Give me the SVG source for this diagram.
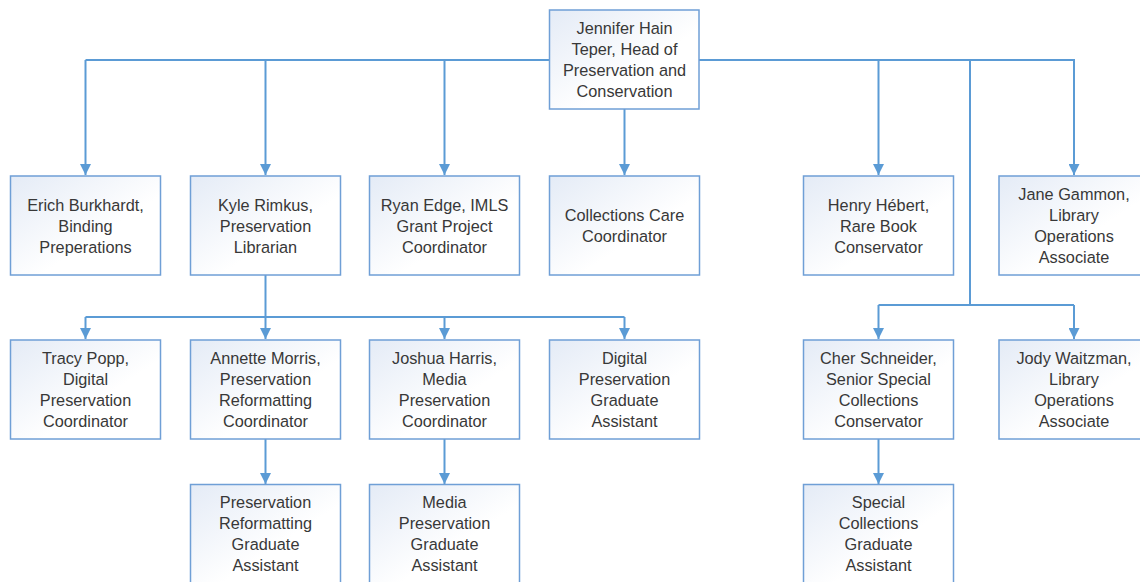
<svg xmlns="http://www.w3.org/2000/svg" width="1140" height="582" viewBox="0 0 1140 582">
<defs>
<linearGradient id="g" x1="0" y1="0" x2="1" y2="1">
<stop offset="0" stop-color="#e4ebf6"/>
<stop offset="0.6" stop-color="#ffffff"/>
<stop offset="1" stop-color="#ffffff"/>
</linearGradient>
<marker id="ah" viewBox="0 0 10 10" refX="10" refY="5" markerWidth="11" markerHeight="11" markerUnits="userSpaceOnUse" orient="auto">
<path d="M0,0 L10,5 L0,10 Z" fill="#5b9bd5"/>
</marker>
<style>
.box{fill:url(#g);stroke:#6f9fd6;stroke-width:1.5}
.t{font-family:"Liberation Sans",Arial,sans-serif;font-size:16.3px;fill:#383838;text-anchor:middle}
.c{fill:none;stroke:#5b9bd5;stroke-width:2}
</style>
</defs>
<rect width="1140" height="582" fill="#fff"/>
<g id="connectors">
<path class="c" d="M85.5,60 V175" marker-end="url(#ah)"/>
<path class="c" d="M85.5,60 H549"/>
<path class="c" d="M265.5,60 V175" marker-end="url(#ah)"/>
<path class="c" d="M444.5,60 V175" marker-end="url(#ah)"/>
<path class="c" d="M624.5,109 V175" marker-end="url(#ah)"/>
<path class="c" d="M699,60 H1074 V175" marker-end="url(#ah)"/>
<path class="c" d="M878.5,60 V175" marker-end="url(#ah)"/>
<path class="c" d="M265.5,275 V317"/>
<path class="c" d="M85.5,317 H624.5"/>
<path class="c" d="M85.5,317 V339" marker-end="url(#ah)"/>
<path class="c" d="M265.5,317 V339" marker-end="url(#ah)"/>
<path class="c" d="M444.5,317 V339" marker-end="url(#ah)"/>
<path class="c" d="M624.5,317 V339" marker-end="url(#ah)"/>
<path class="c" d="M970,60 V305"/>
<path class="c" d="M878.5,305 H1074"/>
<path class="c" d="M878.5,305 V339" marker-end="url(#ah)"/>
<path class="c" d="M1074,305 V339" marker-end="url(#ah)"/>
<path class="c" d="M265.5,439 V484" marker-end="url(#ah)"/>
<path class="c" d="M444.5,439 V484" marker-end="url(#ah)"/>
<path class="c" d="M878.5,439 V484" marker-end="url(#ah)"/>
</g>
<g id="n-head"><rect class="box" x="549.5" y="10" width="149.5" height="99"/>
<text class="t" x="624.5" y="34">Jennifer Hain</text><text class="t" x="624.5" y="55">Teper, Head of</text><text class="t" x="624.5" y="76">Preservation and</text><text class="t" x="624.5" y="97">Conservation</text></g>
<g id="n-erich"><rect class="box" x="10.5" y="176" width="150" height="99"/>
<text class="t" x="85.5" y="211">Erich Burkhardt,</text><text class="t" x="85.5" y="232">Binding</text><text class="t" x="85.5" y="253">Preperations</text></g>
<g id="n-kyle"><rect class="box" x="190.5" y="176" width="150" height="99"/>
<text class="t" x="265.5" y="211">Kyle Rimkus,</text><text class="t" x="265.5" y="232">Preservation</text><text class="t" x="265.5" y="253">Librarian</text></g>
<g id="n-ryan"><rect class="box" x="369.5" y="176" width="150" height="99"/>
<text class="t" x="444.5" y="211">Ryan Edge, IMLS</text><text class="t" x="444.5" y="232">Grant Project</text><text class="t" x="444.5" y="253">Coordinator</text></g>
<g id="n-care"><rect class="box" x="549.5" y="176" width="150" height="99"/>
<text class="t" x="624.5" y="221">Collections Care</text><text class="t" x="624.5" y="242">Coordinator</text></g>
<g id="n-henry"><rect class="box" x="803.5" y="176" width="150" height="99"/>
<text class="t" x="878.5" y="211">Henry Hébert,</text><text class="t" x="878.5" y="232">Rare Book</text><text class="t" x="878.5" y="253">Conservator</text></g>
<g id="n-jane"><rect class="box" x="999" y="176" width="150" height="99"/>
<text class="t" x="1074" y="200">Jane Gammon,</text><text class="t" x="1074" y="221">Library</text><text class="t" x="1074" y="242">Operations</text><text class="t" x="1074" y="263">Associate</text></g>
<g id="n-tracy"><rect class="box" x="10.5" y="340" width="150" height="99"/>
<text class="t" x="85.5" y="364">Tracy Popp,</text><text class="t" x="85.5" y="385">Digital</text><text class="t" x="85.5" y="406">Preservation</text><text class="t" x="85.5" y="427">Coordinator</text></g>
<g id="n-annette"><rect class="box" x="190.5" y="340" width="150" height="99"/>
<text class="t" x="265.5" y="364">Annette Morris,</text><text class="t" x="265.5" y="385">Preservation</text><text class="t" x="265.5" y="406">Reformatting</text><text class="t" x="265.5" y="427">Coordinator</text></g>
<g id="n-joshua"><rect class="box" x="369.5" y="340" width="150" height="99"/>
<text class="t" x="444.5" y="364">Joshua Harris,</text><text class="t" x="444.5" y="385">Media</text><text class="t" x="444.5" y="406">Preservation</text><text class="t" x="444.5" y="427">Coordinator</text></g>
<g id="n-dpga"><rect class="box" x="549.5" y="340" width="150" height="99"/>
<text class="t" x="624.5" y="364">Digital</text><text class="t" x="624.5" y="385">Preservation</text><text class="t" x="624.5" y="406">Graduate</text><text class="t" x="624.5" y="427">Assistant</text></g>
<g id="n-cher"><rect class="box" x="803.5" y="340" width="150" height="99"/>
<text class="t" x="878.5" y="364">Cher Schneider,</text><text class="t" x="878.5" y="385">Senior Special</text><text class="t" x="878.5" y="406">Collections</text><text class="t" x="878.5" y="427">Conservator</text></g>
<g id="n-jody"><rect class="box" x="999" y="340" width="150" height="99"/>
<text class="t" x="1074" y="364">Jody Waitzman,</text><text class="t" x="1074" y="385">Library</text><text class="t" x="1074" y="406">Operations</text><text class="t" x="1074" y="427">Associate</text></g>
<g id="n-prga"><rect class="box" x="190.5" y="484.5" width="150" height="99"/>
<text class="t" x="265.5" y="508">Preservation</text><text class="t" x="265.5" y="529">Reformatting</text><text class="t" x="265.5" y="550">Graduate</text><text class="t" x="265.5" y="571">Assistant</text></g>
<g id="n-mpga"><rect class="box" x="369.5" y="484.5" width="150" height="99"/>
<text class="t" x="444.5" y="508">Media</text><text class="t" x="444.5" y="529">Preservation</text><text class="t" x="444.5" y="550">Graduate</text><text class="t" x="444.5" y="571">Assistant</text></g>
<g id="n-scga"><rect class="box" x="803.5" y="484.5" width="150" height="99"/>
<text class="t" x="878.5" y="508">Special</text><text class="t" x="878.5" y="529">Collections</text><text class="t" x="878.5" y="550">Graduate</text><text class="t" x="878.5" y="571">Assistant</text></g>
</svg>
